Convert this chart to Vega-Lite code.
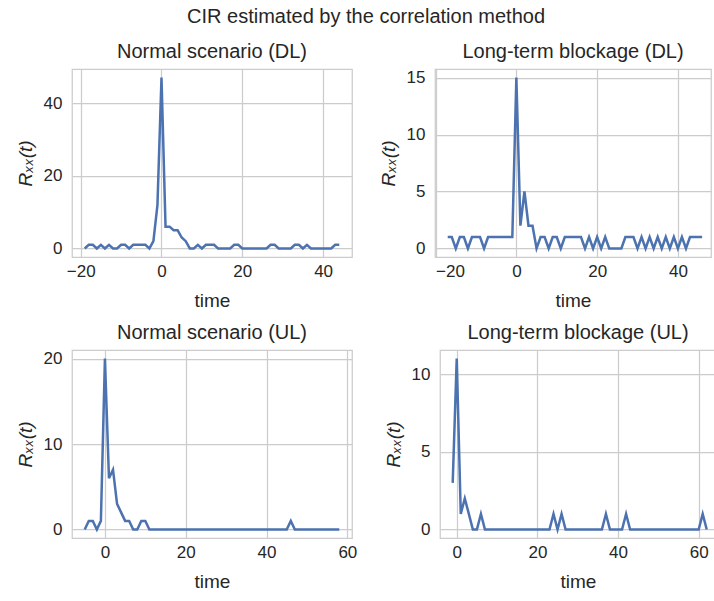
{
  "$schema": "https://vega.github.io/schema/vega-lite/v6.json",
  "padding": {"left": 15, "top": 6, "right": 0, "bottom": 0},
  "title": {"text": "CIR estimated by the correlation method", "fontSize": 20, "fontWeight": "normal", "color": "#262626", "anchor": "middle", "frame": "bounds", "offset": 14},
  "config": {
    "font": "Liberation Sans",
    "view": {"stroke": "#cccccc", "strokeWidth": 1.25},
    "axis": {"grid": true, "gridColor": "#cccccc", "gridWidth": 1.25, "domain": false, "ticks": false, "labelFontSize": 17, "labelColor": "#262626", "titleFontSize": 19, "titleFontWeight": "normal", "titleColor": "#262626"},
    "axisX": {"labelPadding": 6, "titlePadding": 12},
    "axisY": {"titleFontStyle": "italic", "labelPadding": 10, "titlePadding": 8},
    "title": {"fontSize": 20, "fontWeight": "normal", "color": "#262626", "offset": 7},
    "line": {"color": "#4c72b0", "strokeWidth": 2.5, "clip": true}
  },
  "datasets": {
    "dl_normal": [
      {"t": -19, "r": 0}, {"t": -18, "r": 1}, {"t": -17, "r": 1}, {"t": -16, "r": 0}, {"t": -15, "r": 1}, {"t": -14, "r": 0}, {"t": -13, "r": 1}, {"t": -12, "r": 0},
      {"t": -11, "r": 0}, {"t": -10, "r": 1}, {"t": -9, "r": 1}, {"t": -8, "r": 0}, {"t": -7, "r": 1}, {"t": -6, "r": 1}, {"t": -5, "r": 1}, {"t": -4, "r": 1},
      {"t": -3, "r": 0}, {"t": -2, "r": 2}, {"t": -1, "r": 12}, {"t": 0, "r": 47}, {"t": 1, "r": 6}, {"t": 2, "r": 6}, {"t": 3, "r": 5}, {"t": 4, "r": 5},
      {"t": 5, "r": 3}, {"t": 6, "r": 2}, {"t": 7, "r": 0}, {"t": 8, "r": 0}, {"t": 9, "r": 1}, {"t": 10, "r": 0}, {"t": 11, "r": 1}, {"t": 12, "r": 1},
      {"t": 13, "r": 1}, {"t": 14, "r": 0}, {"t": 15, "r": 0}, {"t": 16, "r": 0}, {"t": 17, "r": 0}, {"t": 18, "r": 1}, {"t": 19, "r": 1}, {"t": 20, "r": 0},
      {"t": 21, "r": 0}, {"t": 22, "r": 0}, {"t": 23, "r": 0}, {"t": 24, "r": 0}, {"t": 25, "r": 0}, {"t": 26, "r": 0}, {"t": 27, "r": 1}, {"t": 28, "r": 1},
      {"t": 29, "r": 0}, {"t": 30, "r": 0}, {"t": 31, "r": 0}, {"t": 32, "r": 0}, {"t": 33, "r": 1}, {"t": 34, "r": 1}, {"t": 35, "r": 0}, {"t": 36, "r": 1},
      {"t": 37, "r": 0}, {"t": 38, "r": 0}, {"t": 39, "r": 0}, {"t": 40, "r": 0}, {"t": 41, "r": 0}, {"t": 42, "r": 0}, {"t": 43, "r": 1}, {"t": 44, "r": 1}
    ],
    "dl_block": [
      {"t": -17, "r": 1}, {"t": -16, "r": 1}, {"t": -15, "r": 0}, {"t": -14, "r": 1}, {"t": -13, "r": 1}, {"t": -12, "r": 0}, {"t": -11, "r": 1}, {"t": -10, "r": 1},
      {"t": -9, "r": 1}, {"t": -8, "r": 0}, {"t": -7, "r": 1}, {"t": -6, "r": 1}, {"t": -5, "r": 1}, {"t": -4, "r": 1}, {"t": -3, "r": 1}, {"t": -2, "r": 1},
      {"t": -1, "r": 1}, {"t": 0, "r": 15}, {"t": 1, "r": 2}, {"t": 2, "r": 5}, {"t": 3, "r": 2}, {"t": 4, "r": 2}, {"t": 5, "r": 0}, {"t": 6, "r": 1},
      {"t": 7, "r": 1}, {"t": 8, "r": 0}, {"t": 9, "r": 1}, {"t": 10, "r": 1}, {"t": 11, "r": 0}, {"t": 12, "r": 1}, {"t": 13, "r": 1}, {"t": 14, "r": 1},
      {"t": 15, "r": 1}, {"t": 16, "r": 1}, {"t": 17, "r": 0}, {"t": 18, "r": 1}, {"t": 19, "r": 0}, {"t": 20, "r": 1}, {"t": 21, "r": 0}, {"t": 22, "r": 1},
      {"t": 23, "r": 0}, {"t": 24, "r": 0}, {"t": 25, "r": 0}, {"t": 26, "r": 0}, {"t": 27, "r": 1}, {"t": 28, "r": 1}, {"t": 29, "r": 1}, {"t": 30, "r": 0},
      {"t": 31, "r": 1}, {"t": 32, "r": 0}, {"t": 33, "r": 1}, {"t": 34, "r": 0}, {"t": 35, "r": 1}, {"t": 36, "r": 0}, {"t": 37, "r": 1}, {"t": 38, "r": 0},
      {"t": 39, "r": 1}, {"t": 40, "r": 0}, {"t": 41, "r": 1}, {"t": 42, "r": 0}, {"t": 43, "r": 1}, {"t": 44, "r": 1}, {"t": 45, "r": 1}, {"t": 46, "r": 1}
    ],
    "ul_normal": [
      {"t": -5, "r": 0}, {"t": -4, "r": 1}, {"t": -3, "r": 1}, {"t": -2, "r": 0}, {"t": -1, "r": 1}, {"t": 0, "r": 20}, {"t": 1, "r": 6}, {"t": 2, "r": 7},
      {"t": 3, "r": 3}, {"t": 4, "r": 2}, {"t": 5, "r": 1}, {"t": 6, "r": 1}, {"t": 7, "r": 0}, {"t": 8, "r": 0}, {"t": 9, "r": 1}, {"t": 10, "r": 1},
      {"t": 11, "r": 0}, {"t": 12, "r": 0}, {"t": 13, "r": 0}, {"t": 14, "r": 0}, {"t": 15, "r": 0}, {"t": 16, "r": 0}, {"t": 17, "r": 0}, {"t": 18, "r": 0},
      {"t": 19, "r": 0}, {"t": 20, "r": 0}, {"t": 21, "r": 0}, {"t": 22, "r": 0}, {"t": 23, "r": 0}, {"t": 24, "r": 0}, {"t": 25, "r": 0}, {"t": 26, "r": 0},
      {"t": 27, "r": 0}, {"t": 28, "r": 0}, {"t": 29, "r": 0}, {"t": 30, "r": 0}, {"t": 31, "r": 0}, {"t": 32, "r": 0}, {"t": 33, "r": 0}, {"t": 34, "r": 0},
      {"t": 35, "r": 0}, {"t": 36, "r": 0}, {"t": 37, "r": 0}, {"t": 38, "r": 0}, {"t": 39, "r": 0}, {"t": 40, "r": 0}, {"t": 41, "r": 0}, {"t": 42, "r": 0},
      {"t": 43, "r": 0}, {"t": 44, "r": 0}, {"t": 45, "r": 0}, {"t": 46, "r": 1}, {"t": 47, "r": 0}, {"t": 48, "r": 0}, {"t": 49, "r": 0}, {"t": 50, "r": 0},
      {"t": 51, "r": 0}, {"t": 52, "r": 0}, {"t": 53, "r": 0}, {"t": 54, "r": 0}, {"t": 55, "r": 0}, {"t": 56, "r": 0}, {"t": 57, "r": 0}, {"t": 58, "r": 0}
    ],
    "ul_block": [
      {"t": -1, "r": 3}, {"t": 0, "r": 11}, {"t": 1, "r": 1}, {"t": 2, "r": 2}, {"t": 3, "r": 1}, {"t": 4, "r": 0}, {"t": 5, "r": 0}, {"t": 6, "r": 1},
      {"t": 7, "r": 0}, {"t": 8, "r": 0}, {"t": 9, "r": 0}, {"t": 10, "r": 0}, {"t": 11, "r": 0}, {"t": 12, "r": 0}, {"t": 13, "r": 0}, {"t": 14, "r": 0},
      {"t": 15, "r": 0}, {"t": 16, "r": 0}, {"t": 17, "r": 0}, {"t": 18, "r": 0}, {"t": 19, "r": 0}, {"t": 20, "r": 0}, {"t": 21, "r": 0}, {"t": 22, "r": 0},
      {"t": 23, "r": 0}, {"t": 24, "r": 1}, {"t": 25, "r": 0}, {"t": 26, "r": 1}, {"t": 27, "r": 0}, {"t": 28, "r": 0}, {"t": 29, "r": 0}, {"t": 30, "r": 0},
      {"t": 31, "r": 0}, {"t": 32, "r": 0}, {"t": 33, "r": 0}, {"t": 34, "r": 0}, {"t": 35, "r": 0}, {"t": 36, "r": 0}, {"t": 37, "r": 1}, {"t": 38, "r": 0},
      {"t": 39, "r": 0}, {"t": 40, "r": 0}, {"t": 41, "r": 0}, {"t": 42, "r": 1}, {"t": 43, "r": 0}, {"t": 44, "r": 0}, {"t": 45, "r": 0}, {"t": 46, "r": 0},
      {"t": 47, "r": 0}, {"t": 48, "r": 0}, {"t": 49, "r": 0}, {"t": 50, "r": 0}, {"t": 51, "r": 0}, {"t": 52, "r": 0}, {"t": 53, "r": 0}, {"t": 54, "r": 0},
      {"t": 55, "r": 0}, {"t": 56, "r": 0}, {"t": 57, "r": 0}, {"t": 58, "r": 0}, {"t": 59, "r": 0}, {"t": 60, "r": 0}, {"t": 61, "r": 1}, {"t": 62, "r": 0}
    ]
  },
  "spacing": 10,
  "vconcat": [
    {
      "spacing": 25,
      "hconcat": [
        {
          "width": 280, "height": 188,
          "title": {"text": "Normal scenario (DL)", "frame": "group"},
          "data": {"name": "dl_normal"},
          "mark": {"type": "line"},
          "encoding": {
            "x": {"field": "t", "type": "quantitative", "scale": {"domain": [-22.15, 47.15], "nice": false, "zero": false}, "axis": {"values": [-20, 0, 20, 40], "title": "time"}},
            "y": {"field": "r", "type": "quantitative", "scale": {"domain": [-2.35, 49.35], "nice": false, "zero": false}, "axis": {"values": [0, 20, 40], "title": "Rₓₓ(t)"}}
          }
        },
        {
          "width": 276, "height": 188,
          "title": {"text": "Long-term blockage (DL)", "frame": "group"},
          "data": {"name": "dl_block"},
          "mark": {"type": "line"},
          "encoding": {
            "x": {"field": "t", "type": "quantitative", "scale": {"domain": [-20.15, 48.2], "nice": false, "zero": false}, "axis": {"values": [-20, 0, 20, 40], "title": "time"}},
            "y": {"field": "r", "type": "quantitative", "scale": {"domain": [-0.75, 15.75], "nice": false, "zero": false}, "axis": {"values": [0, 5, 10, 15], "title": "Rₓₓ(t)"}}
          }
        }
      ]
    },
    {
      "spacing": 25,
      "hconcat": [
        {
          "width": 280, "height": 188,
          "title": {"text": "Normal scenario (UL)", "frame": "group"},
          "data": {"name": "ul_normal"},
          "mark": {"type": "line"},
          "encoding": {
            "x": {"field": "t", "type": "quantitative", "scale": {"domain": [-8.15, 61.15], "nice": false, "zero": false}, "axis": {"values": [0, 20, 40, 60], "title": "time"}},
            "y": {"field": "r", "type": "quantitative", "scale": {"domain": [-1, 21], "nice": false, "zero": false}, "axis": {"values": [0, 10, 20], "title": "Rₓₓ(t)"}}
          }
        },
        {
          "width": 276, "height": 188,
          "title": {"text": "Long-term blockage (UL)", "frame": "group"},
          "data": {"name": "ul_block"},
          "mark": {"type": "line"},
          "encoding": {
            "x": {"field": "t", "type": "quantitative", "scale": {"domain": [-4.15, 64.3], "nice": false, "zero": false}, "axis": {"values": [0, 20, 40, 60], "title": "time"}},
            "y": {"field": "r", "type": "quantitative", "scale": {"domain": [-0.55, 11.55], "nice": false, "zero": false}, "axis": {"values": [0, 5, 10], "title": "Rₓₓ(t)"}}
          }
        }
      ]
    }
  ]
}
